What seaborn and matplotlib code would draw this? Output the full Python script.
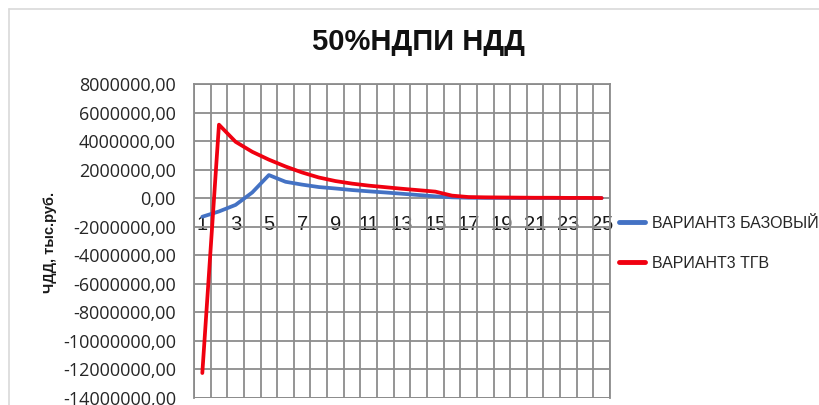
import matplotlib
matplotlib.use("Agg")
import matplotlib.pyplot as plt
from matplotlib.ticker import FixedLocator, FuncFormatter, NullFormatter
from matplotlib.patches import Rectangle
import numpy as np
import pandas as pd
import seaborn as sns

# Discounted income (ЧДД), thousand roubles, by year of the project
years = list(range(1, 26))
variant_base = [-1300000, -930000, -470000, 400000, 1620000, 1150000, 950000, 780000,
                680000, 570000, 480000, 400000, 310000, 220000, 130000, 60000,
                30000, 20000, 20000, 10000, 10000, 10000, 5000, 5000, 5000]
variant_tgv = [-12250000, 5150000, 3950000, 3250000, 2700000, 2220000, 1800000, 1450000,
               1200000, 1020000, 880000, 770000, 660000, 560000, 460000, 180000,
               80000, 60000, 50000, 40000, 30000, 30000, 20000, 20000, 10000]
series_names = ["ВАРИАНТ3 БАЗОВЫЙ", "ВАРИАНТ3 ТГВ"]
title = "50%НДПИ НДД"
y_label = "ЧДД, тыс.руб."

df = pd.DataFrame({
    "year": years * 2,
    "value": variant_base + variant_tgv,
    "series": [series_names[0]] * len(years) + [series_names[1]] * len(years),
})

sns.set_theme(style="white")
plt.rcParams["font.family"] = ["Liberation Sans", "DejaVu Sans"]

fig = plt.figure(figsize=(8.2, 4.05), dpi=100)
ax = fig.add_axes([194 / 820, 1 - 398 / 405, 416 / 820, 314 / 405])

sns.lineplot(data=df, x="year", y="value", hue="series",
             palette={series_names[0]: "#4472C4", series_names[1]: "#F00010"},
             linewidth=2.7, ax=ax, legend=True)

ax.set_xlim(0.5, 25.5)
ax.set_ylim(-14000000, 8000000)

grid_color = "#8c8c8c"
# category boundaries carry the vertical grid, odd years carry labels
ax.xaxis.set_minor_locator(FixedLocator(np.arange(0.5, 26, 1.0)))
ax.xaxis.set_major_locator(FixedLocator(years[::2]))
ax.xaxis.set_major_formatter(FuncFormatter(lambda v, p: f"{int(v)}"))
ax.xaxis.set_minor_formatter(NullFormatter())
ax.grid(which="minor", axis="x", color=grid_color, linewidth=1.3)
ax.grid(which="major", axis="x", visible=False)
ax.yaxis.set_major_locator(FixedLocator(np.arange(-14000000, 8000001, 2000000)))
ax.grid(which="major", axis="y", color=grid_color, linewidth=1.3)
ax.yaxis.set_major_formatter(FuncFormatter(lambda v, p: f"{v:.2f}".replace(".", ",")))

# category labels sit along the zero line
ax.spines["bottom"].set_position(("data", 0))
ax.spines["bottom"].set_visible(False)
for side in ("top", "left", "right"):
    ax.spines[side].set_color(grid_color)
    ax.spines[side].set_linewidth(1.3)
ax.add_patch(Rectangle((0, 0), 1, 1, transform=ax.transAxes, fill=False,
                       edgecolor=grid_color, linewidth=1.3, zorder=0.5))
ax.tick_params(axis="x", which="both", length=0, pad=12, labelsize=14.5, labelcolor="#1a1a1a")
ax.tick_params(axis="y", length=0, pad=13, labelsize=13, labelcolor="#262626")
for lbl in ax.get_xticklabels():
    lbl.set_family(["Liberation Sans Narrow", "Liberation Sans", "DejaVu Sans"])
for lbl in ax.get_yticklabels():
    lbl.set_family(["Open Sans", "DejaVu Sans"])

ax.set_xlabel("")
ax.set_ylabel("")
fig.text(50 / 820, 1 - 242 / 405, y_label, rotation=90, ha="center", va="center",
         fontsize=10.5, fontweight="bold", color="#1a1a1a")
fig.text(418 / 820, 1 - 42 / 405, title, ha="center", va="center",
         fontsize=21, fontweight="bold", color="#111111")

handles, labels = ax.get_legend_handles_labels()
for h in handles:
    h.set_linewidth(3.5)
ax.legend(handles, labels, loc="upper left", bbox_to_anchor=(619 / 820, 1 - 216 / 405),
          bbox_transform=fig.transFigure, frameon=False, fontsize=11.5,
          handlelength=1.65, handletextpad=0.4, labelspacing=1.55, borderaxespad=0,
          borderpad=0)

# light outer frame of the chart area
fig.add_artist(plt.Line2D([9 / 820, 1], [1 - 9 / 405, 1 - 9 / 405], transform=fig.transFigure,
                          color="#d9d9d9", linewidth=1.2))
fig.add_artist(plt.Line2D([9 / 820, 9 / 820], [0, 1 - 9 / 405], transform=fig.transFigure,
                          color="#d9d9d9", linewidth=1.2))

fig.savefig("out.png", dpi=100)
